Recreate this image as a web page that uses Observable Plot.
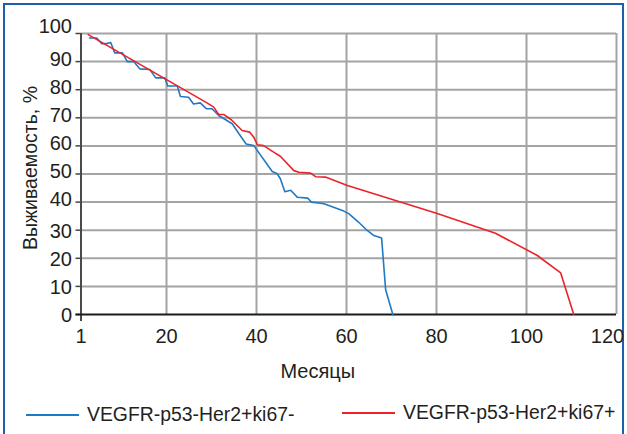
<!DOCTYPE html>
<html>
<head>
<meta charset="utf-8">
<script src="https://cdn.jsdelivr.net/npm/d3@7"></script>
<script src="https://cdn.jsdelivr.net/npm/@observablehq/plot@0.6"></script>
<style>
  html, body { margin: 0; padding: 0; background: #fff; }
  body { width: 627px; height: 434px; position: relative; overflow: hidden;
         font-family: "Liberation Sans", Arial, sans-serif; color: #231f20; }
  #frame { position: absolute; left: 3px; top: 3px; width: 617px; height: 440px;
           border-left: 2.5px solid #1d5fa9; border-top: 2.5px solid #1d5fa9; border-right: 2.5px solid #1d5fa9; }
  #chart { position: absolute; left: 0; top: 0; }
  .leg-line { position: absolute; height: 2px; }
  .leg-text { position: absolute; font-size: 19.4px; line-height: 20px; white-space: nowrap; }
</style>
</head>
<body>
<div id="frame"></div>
<div id="chart"></div>
<div class="leg-line" style="left:26px; top:414px; width:53px; background:#2079c4;"></div>
<div class="leg-text" id="leg1" style="left:87px; top:403.5px;"></div>
<div class="leg-line" style="left:342px; top:412px; width:53px; background:#ec2228;"></div>
<div class="leg-text" id="leg2" style="left:403px; top:401.5px;"></div>
<script>
// Data
const seriesNames = ["VEGFR-p53-Her2+ki67-", "VEGFR-p53-Her2+ki67+"];
const monthsBlue = [2.9, 4.5, 5.6, 6.7, 7.6, 8.5, 10.2, 11.3, 12.7, 14.1, 16.3, 17.6, 19.6, 20.3, 22.4, 23.1, 24.9, 26, 27.5, 28.9, 30.1, 31.6, 34.6, 36.1, 37.7, 39.4, 43.5, 44.6, 45.3, 46.3, 47.6, 49.1, 51.4, 52.2, 53.7, 55, 59.4, 60.5, 62.6, 64.6, 66.1, 67.8, 68.7, 70.3];
const survBlue = [98.4, 98.4, 96.4, 96.4, 96.8, 93.1, 93.1, 90, 90, 87.4, 87.2, 84.2, 84.2, 81.3, 81.3, 77.6, 77.3, 74.9, 75.3, 73.2, 73.2, 70.8, 67.9, 64.3, 60.7, 60.1, 50.9, 50.1, 48.3, 43.7, 44.2, 41.7, 41.4, 40, 39.7, 39.4, 36.8, 35.9, 33, 29.9, 28.1, 27.2, 8.8, 0];
const monthsRed = [2.6, 29, 30.5, 31.6, 32.7, 34.4, 36.8, 38.5, 39.4, 40.2, 41.6, 43.8, 45.3, 48.3, 49.4, 52, 53.2, 55.3, 60.2, 80, 93.1, 102.4, 107.6, 110.5];
const survRed = [99.6, 75.3, 73.8, 71.2, 71.2, 69.3, 65.5, 64.9, 63.1, 60.4, 60.1, 57.8, 56.3, 51.2, 50.6, 50.3, 49, 48.9, 45.9, 36, 28.9, 21, 14.8, 0];
const xTicks = [1, 20, 40, 60, 80, 100, 120];
const yTicks = [0, 10, 20, 30, 40, 50, 60, 70, 80, 90, 100];
const xLabel = "Месяцы";
const yLabel = "Выживаемость, %";

const blue = monthsBlue.map((m, i) => ({m, v: survBlue[i]}));
const red = monthsRed.map((m, i) => ({m, v: survRed[i]}));

const gridColor = "#a4a4a4";
const lastX = xTicks[xTicks.length - 1];
const yText = (ticks, dy) => Plot.axisY({ticks, tickSize: 0, tickPadding: 9, label: null, fontSize: 20, dy});
const chart = Plot.plot({
  width: 627,
  height: 390,
  marginLeft: 80.5,
  marginRight: 11,
  marginTop: 33,
  marginBottom: 76,
  style: {fontFamily: "'Liberation Sans', Arial, sans-serif", fontSize: "20px", color: "#231f20", background: "transparent"},
  x: {domain: [1, 120], axis: null},
  y: {domain: [0, 100], axis: null},
  marks: [
    Plot.gridX(xTicks.filter(d => d !== 1), {stroke: gridColor, strokeOpacity: 1, strokeWidth: 2}),
    Plot.gridY(yTicks.filter(d => d !== 0), {stroke: gridColor, strokeOpacity: 1, strokeWidth: 2}),
    Plot.axisY({ticks: yTicks, tickSize: 5, text: null, label: null, stroke: "#444", strokeWidth: 1.5}),
    yText(yTicks.filter(d => d <= 30), 1.5),
    yText(yTicks.filter(d => d > 30 && d < 100), -2.5),
    yText(yTicks.filter(d => d === 100), -7),
    Plot.axisX({ticks: xTicks.filter(d => d !== lastX), tickSize: 0, tickPadding: 14, label: null, fontSize: 20, tickFormat: d => String(d)}),
    Plot.axisX({ticks: [lastX], tickSize: 0, tickPadding: 14, label: null, fontSize: 20, dx: -9, tickFormat: d => String(d)}),
    Plot.ruleX([1], {stroke: "#4a4a4a", strokeWidth: 2, insetBottom: -7}),
    Plot.ruleY([0], {stroke: "#1a1a1a", strokeWidth: 2, insetLeft: -5}),
    Plot.line(blue, {x: "m", y: "v", stroke: "#2079c4", strokeWidth: 1.6}),
    Plot.line(red, {x: "m", y: "v", stroke: "#ec2228", strokeWidth: 1.6}),
    Plot.text([xLabel], {frameAnchor: "bottom", textAnchor: "middle", lineAnchor: "middle", dx: -31, dy: 57, fontSize: 20, fill: "#231f20"}),
    Plot.text([yLabel], {frameAnchor: "left", textAnchor: "middle", lineAnchor: "middle", rotate: -90, dx: -50, dy: -6, fontSize: 19.5, fill: "#231f20"})
  ]
});
document.getElementById("chart").appendChild(chart);
document.getElementById("leg1").textContent = seriesNames[0];
document.getElementById("leg2").textContent = seriesNames[1];
</script>
</body>
</html>
